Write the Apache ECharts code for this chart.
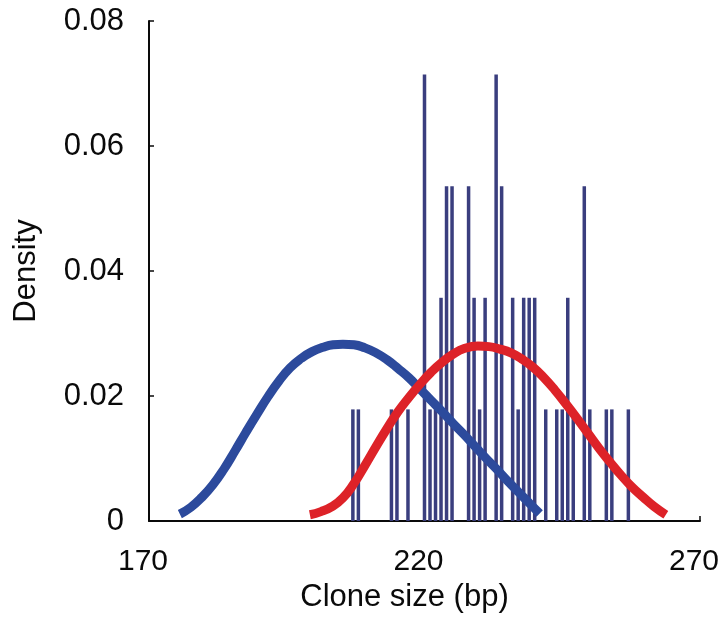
<!DOCTYPE html>
<html>
<head>
<meta charset="utf-8">
<script src="https://cdn.jsdelivr.net/npm/echarts@6/dist/echarts.min.js"></script>
<style>
  html, body { margin: 0; padding: 0; background: #ffffff; }
  #chart { width: 726px; height: 624px; }
</style>
</head>
<body>
<div id="chart"></div>
<script>
// Histogram of clone sizes (1 bp bins, density = count / 56)
const binSizes = [207, 208, 214, 215, 217, 220, 221, 222, 223, 224, 225, 228, 229, 230, 231,
                  233, 234, 236, 237, 238, 239, 240, 242, 244, 245, 246, 247, 249, 250, 253, 254, 257];
const binCounts = [1, 1, 1, 1, 1, 4, 1, 1, 2, 3, 3, 3, 2, 1, 2,
                   4, 3, 2, 1, 2, 2, 2, 1, 1, 1, 2, 1, 3, 1, 1, 1, 1];
const totalClones = 56;

// Fitted component curves (size in bp, density)
const blueX = [175.6, 177.6, 179.6, 181.6, 183.6, 185.6, 187.6, 189.6, 191.6, 193.6, 195.6,
               197.6, 199.6, 201.6, 203.4, 205.2, 207.2, 209.2, 211.2, 213.2, 215.2, 217.2,
               219.2, 221.2, 223.2, 225.2, 227.2, 229.2, 231.2, 233.2, 235.2, 237.2, 239.2, 240.9];
const blueY = [0.0011, 0.0022, 0.0038, 0.0058, 0.0083, 0.0112, 0.0142, 0.0171, 0.0199, 0.0224, 0.0245,
               0.0260, 0.0271, 0.0278, 0.0282, 0.0283, 0.0282, 0.0277, 0.0269, 0.0258, 0.0244, 0.0229,
               0.0211, 0.0193, 0.0175, 0.0156, 0.0138, 0.0119, 0.0100, 0.0082, 0.0063, 0.0045, 0.0027, 0.0012];
const redX = [199.2, 201.2, 203.2, 205.2, 207.2, 209.2, 211.2, 213.2, 215.2, 217.2, 219.2,
              221.2, 223.2, 225.2, 227.2, 229.7, 231.7, 233.7, 235.7, 237.7, 239.7, 241.7,
              243.7, 245.7, 247.7, 249.7, 251.7, 253.7, 255.7, 257.7, 259.7, 261.7, 263.8];
const redY = [0.0010, 0.0015, 0.0023, 0.0037, 0.0060, 0.0089, 0.0119, 0.0148, 0.0175, 0.0198, 0.0219,
              0.0238, 0.0254, 0.0267, 0.0276, 0.0280, 0.0279, 0.0275, 0.0269, 0.0259, 0.0246, 0.0229,
              0.0209, 0.0187, 0.0164, 0.0140, 0.0116, 0.0094, 0.0073, 0.0054, 0.0038, 0.0023, 0.0010];

const xTicks = [170, 220, 270];
const yTicks = [0, 0.02, 0.04, 0.06, 0.08];

const barData = binSizes.map((s, i) => [s, binCounts[i] / totalClones]);
const blueData = blueX.map((x, i) => [x, blueY[i]]);
const redData = redX.map((x, i) => [x, redY[i]]);

const font = 'Liberation Sans, Arial, Helvetica, sans-serif';
const ink = '#0a0a0a';
const chart = echarts.init(document.getElementById('chart'), null, { renderer: 'canvas' });

chart.setOption({
  animation: false,
  backgroundColor: '#ffffff',
  grid: { left: 149, right: 26, top: 21, bottom: 103, containLabel: false },
  xAxis: {
    type: 'value',
    min: xTicks[0],
    max: xTicks[xTicks.length - 1],
    interval: 50,
    name: 'Clone size (bp)',
    nameLocation: 'middle',
    nameGap: 45,
    nameTextStyle: { fontFamily: font, fontSize: 31, color: ink, padding: [0, 40, 0, 0] },
    axisLine: { show: true, lineStyle: { color: ink, width: 2 } },
    axisTick: { show: true, inside: true, length: 5, lineStyle: { color: ink, width: 1.5 } },
    axisLabel: {
      fontFamily: font, fontSize: 30, color: ink, margin: 26,
      padding: [0, 12, 0, 0]
    },
    splitLine: { show: false }
  },
  yAxis: {
    type: 'value',
    min: yTicks[0],
    max: yTicks[yTicks.length - 1],
    interval: 0.02,
    name: 'Density',
    nameLocation: 'middle',
    nameGap: 107,
    nameRotate: 90,
    nameTextStyle: { fontFamily: font, fontSize: 31, color: ink },
    axisLine: { show: true, lineStyle: { color: ink, width: 2 } },
    axisTick: { show: true, inside: true, length: 5, lineStyle: { color: ink, width: 1.5 } },
    axisLabel: {
      fontFamily: font, fontSize: 31, color: ink, margin: 25,
      formatter: v => (v === 0 ? '0' : v.toFixed(2))
    },
    splitLine: { show: false }
  },
  series: [
    {
      type: 'bar',
      data: barData,
      barWidth: 3.5,
      itemStyle: { color: '#3a3e7e' },
      z: 1
    },
    {
      type: 'line',
      data: blueData,
      smooth: 0.5,
      showSymbol: false,
      lineStyle: { color: '#2c4a9c', width: 9, cap: 'butt' },
      z: 3
    },
    {
      type: 'line',
      data: redData,
      smooth: 0.5,
      showSymbol: false,
      lineStyle: { color: '#dd2228', width: 9, cap: 'butt' },
      z: 4
    }
  ]
});
</script>
</body>
</html>
